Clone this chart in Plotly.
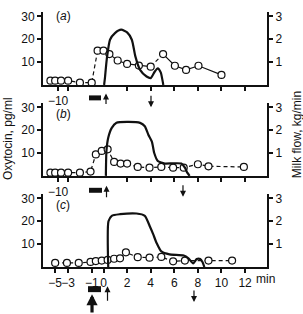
import plotly.graph_objects as go

# ---------------- data (x in axis minutes; pre-period compressed as drawn) ----------------
# Panel (a)
a_oxy_t = [-4.5, -4.1, -3.6, -3.0, -2.0, -1.0, -0.5, 0.0, 0.5, 1.2, 2.0, 3.0, 4.0, 5.05, 6.05, 7.0, 8.05, 10.0]
a_oxy_v = [1.9, 1.9, 1.9, 1.9, 1.0, 1.0, 15.0, 15.0, 13.5, 10.7, 9.2, 8.5, 8.0, 13.5, 8.4, 6.6, 8.4, 4.4]
a_milk_t = [0.05, 0.12, 0.27, 0.55, 0.97, 1.5, 2.0, 2.4, 2.7, 3.1, 3.65, 4.0, 4.35, 4.6, 4.85, 5.0, 5.07]
a_milk_v = [0.0, 0.3, 1.1, 1.98, 2.27, 2.42, 2.3, 1.98, 1.25, 0.66, 0.37, 0.3, 0.59, 0.73, 0.55, 0.2, 0.0]

# Panel (b)
b_oxy_t = [-4.5, -4.1, -3.6, -3.0, -2.0, -1.1, -0.65, -0.15, 0.35, 0.9, 1.45, 2.0, 2.9, 3.9, 4.9, 5.9, 6.8, 8.0, 8.9, 11.9]
b_oxy_v = [1.4, 1.4, 1.4, 1.4, 1.4, 1.9, 9.4, 10.9, 11.6, 6.1, 5.4, 5.4, 3.9, 3.6, 3.9, 3.6, 3.6, 5.1, 4.2, 3.9]
b_milk_t = [0.2, 0.25, 0.4, 0.7, 1.1, 2.0, 3.1, 3.5, 3.8, 4.1, 4.3, 4.6, 4.9, 5.2, 6.6, 6.9, 7.1, 7.3]
b_milk_v = [0.0, 1.1, 1.67, 2.1, 2.32, 2.36, 2.32, 2.17, 1.8, 1.5, 1.0, 0.65, 0.58, 0.54, 0.54, 0.36, 0.14, 0.0]

# Panel (c)
c_oxy_t = [-4.1, -3.1, -2.1, -1.1, -0.65, -0.15, 0.35, 0.9, 1.4, 1.9, 2.9, 3.9, 4.9, 5.9, 6.9, 8.9, 10.9]
c_oxy_v = [1.8, 1.8, 1.8, 2.2, 2.6, 2.8, 3.1, 3.6, 3.8, 6.4, 4.3, 4.1, 4.4, 2.5, 2.8, 2.8, 2.8]
c_milk_t = [0.4, 0.42, 0.7, 1.4, 2.8, 3.5, 3.95, 4.2, 4.5, 4.9, 5.6, 6.8, 7.2, 7.6, 7.9, 8.2, 8.4, 8.55]
c_milk_v = [0.0, 2.0, 2.24, 2.31, 2.34, 2.24, 1.75, 1.45, 1.05, 0.68, 0.55, 0.5, 0.38, 0.16, 0.35, 0.35, 0.21, 0.0]

# tick labels
ab_tickvals = [-3.85, -3.0, 2, 4, 6, 8, 10, 12]
ab_ticktext = ["\u221210", "", "", "", "", "", "", ""]
c_tickvals = [-4.1, -3.0, -1.0, 0.0, 2, 4, 6, 8, 10, 12]
c_ticktext = ["\u22125", "\u22123", "\u22121", "0", "2", "4", "6", "8", "10", "12"]
left_ticks = [10, 20, 30]
right_ticks = [1, 2, 3]
panel_labels = ["(<i>a</i>)", "(<i>b</i>)", "(<i>c</i>)"]

# segments of the oxytocin line drawn dashed (index ranges); rest solid
a_dashed = [(0, 8), (12, 13)]
a_solid = [(8, 12), (13, 17)]

# ---------------- layout geometry ----------------
H = 314.0
def py(px):
    return 1 - px / H

XR = [-5.13, 13.86]
panels = [  # (bottom px, top px)
    (83.5, 9.9),
    (175.0, 101.4),
    (266.7, 193.1),
]
FONT = dict(family="Liberation Sans, Arial, sans-serif", size=12, color="#111111")
LC = "#111111"

fig = go.Figure()

def seg_xy(t, v, ranges):
    xs, ys = [], []
    for (i0, i1) in ranges:
        xs += t[i0:i1 + 1] + [None]
        ys += v[i0:i1 + 1] + [None]
    return xs, ys

def add_panel(k, oxy_t, oxy_v, milk_t, milk_v, dashed=None, solid=None):
    xa = "x" if k == 0 else f"x{k+1}"
    yl = f"y{2*k+1}" if k else "y"
    yr = f"y{2*k+2}"
    fig.add_trace(go.Scatter(x=milk_t, y=milk_v, xaxis=xa, yaxis=yr, mode="lines",
                             line=dict(color=LC, width=2.2, shape="spline", smoothing=0.6),
                             showlegend=False, hoverinfo="skip"))
    if dashed is None:
        dashed = [(0, len(oxy_t) - 1)]
        solid = []
    dx, dy = seg_xy(oxy_t, oxy_v, dashed)
    fig.add_trace(go.Scatter(x=dx, y=dy, xaxis=xa, yaxis=yl, mode="lines",
                             line=dict(color=LC, width=1.2, dash="4px,3px"),
                             showlegend=False, hoverinfo="skip"))
    if solid:
        sx, sy = seg_xy(oxy_t, oxy_v, solid)
        fig.add_trace(go.Scatter(x=sx, y=sy, xaxis=xa, yaxis=yl, mode="lines",
                                 line=dict(color=LC, width=1.2),
                                 showlegend=False, hoverinfo="skip"))
    fig.add_trace(go.Scatter(x=oxy_t, y=oxy_v, xaxis=xa, yaxis=yl, mode="markers",
                             marker=dict(symbol="circle", size=7, color="white",
                                         line=dict(color=LC, width=1.2)),
                             showlegend=False, hoverinfo="skip"))

add_panel(0, a_oxy_t, a_oxy_v, a_milk_t, a_milk_v, a_dashed, a_solid)
add_panel(1, b_oxy_t, b_oxy_v, b_milk_t, b_milk_v)
add_panel(2, c_oxy_t, c_oxy_v, c_milk_t, c_milk_v)

layout = dict(
    width=303, height=314, margin=dict(l=43, r=36, t=0, b=0),
    paper_bgcolor="white", plot_bgcolor="white", font=FONT, showlegend=False,
)
for k, (bot, top) in enumerate(panels):
    sfx = "" if k == 0 else str(k + 1)
    yl_name = "yaxis" if k == 0 else f"yaxis{2*k+1}"
    yr_name = f"yaxis{2*k+2}"
    yl_ref = "y" if k == 0 else f"y{2*k+1}"
    dom = [py(bot), py(top)]
    tv, tt = (c_tickvals, c_ticktext) if k == 2 else (ab_tickvals, ab_ticktext)
    layout["xaxis" + sfx] = dict(
        range=XR, domain=[0, 1], anchor=yl_ref, showgrid=False, zeroline=False,
        showline=True, linecolor=LC, linewidth=2, ticks="outside", ticklen=4, tickwidth=1.5,
        tickcolor=LC, tickvals=tv, ticktext=tt, tickfont=FONT, tickangle=0, fixedrange=True,
    )
    layout[yl_name] = dict(
        range=[0, 32], domain=dom, anchor="x" + sfx, showgrid=False, zeroline=False,
        showline=True, linecolor=LC, linewidth=2, ticks="outside", ticklen=4, tickwidth=1.5,
        tickcolor=LC, tickvals=left_ticks, tickfont=FONT, fixedrange=True,
    )
    layout[yr_name] = dict(
        range=[0, 3.2], overlaying=yl_ref, side="right", anchor="x" + sfx,
        showgrid=False, zeroline=False, showline=True, linecolor=LC, linewidth=2,
        ticks="outside", ticklen=4, tickwidth=1.5, tickcolor=LC, tickvals=right_ticks,
        tickfont=FONT, fixedrange=True,
    )
fig.update_layout(**layout)

ann = []
# panel labels
for lab, ypx in zip(panel_labels, [14, 113, 204]):
    ann.append(dict(text=lab, x=(63 - 43) / 224, y=py(ypx), xref="paper", yref="paper",
                    showarrow=False, font=FONT, xanchor="center", yanchor="middle"))
# axis titles
ann.append(dict(text="Oxytocin, pg/ml", x=(8 - 43) / 224, y=py(138), xref="paper", yref="paper",
                textangle=-90, showarrow=False, font=FONT, xanchor="center", yanchor="middle"))
ann.append(dict(text="Milk flow, kg/min", x=(297 - 43) / 224, y=py(134), xref="paper", yref="paper",
                textangle=-90, showarrow=False, font=FONT, xanchor="center", yanchor="middle"))
ann.append(dict(text="min", x=(265 - 43) / 224, y=py(279), xref="paper", yref="paper",
                showarrow=False, font=FONT, xanchor="center", yanchor="middle"))

def tx(px):
    return (px - 103.5) / 11.8

def arrow(xpx, head_px, tail_px, width=1.2, size=1.0):
    ann.append(dict(text="", x=tx(xpx), y=py(head_px), xref="x", yref="paper",
                    showarrow=True, ax=0, ay=tail_px - head_px, axref="pixel", ayref="pixel",
                    arrowhead=2, arrowsize=size, arrowwidth=width, arrowcolor=LC))

arrow(106, 92, 104)
arrow(151, 106, 93)
arrow(106.5, 185, 198)
arrow(183, 196, 183)
arrow(107.5, 286, 302)
arrow(194, 302, 289)
arrow(92, 294, 316, width=3.2, size=0.7)
fig.update_layout(annotations=ann)

shapes = []
for (x0, x1, y0, y1) in [(89, 101, 94, 99), (89, 102, 187, 192), (88, 101, 286, 292)]:
    shapes.append(dict(type="rect", xref="x", yref="paper", x0=tx(x0), x1=tx(x1),
                       y0=py(y1), y1=py(y0), fillcolor=LC, line=dict(width=0)))
fig.update_layout(shapes=shapes)

fig.write_html("out.html")
